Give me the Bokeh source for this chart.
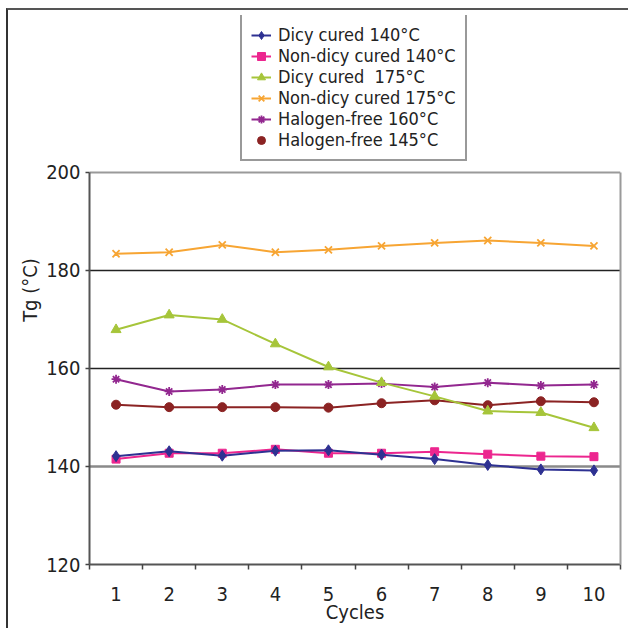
from bokeh.plotting import figure
from bokeh.models import Legend, LegendItem, FixedTicker, Grid, ColumnDataSource, Range1d, LinearAxis
from bokeh.embed import file_html
from bokeh.resources import INLINE

cycles = [1, 2, 3, 4, 5, 6, 7, 8, 9, 10]
dicy_140 = [142.1, 143.1, 142.2, 143.2, 143.3, 142.4, 141.5, 140.3, 139.4, 139.2]
nondicy_140 = [141.5, 142.7, 142.7, 143.5, 142.7, 142.7, 143.0, 142.5, 142.1, 142.0]
dicy_175 = [167.9, 170.9, 170.0, 165.0, 160.3, 157.1, 154.3, 151.3, 151.0, 147.9]
nondicy_175 = [183.4, 183.7, 185.2, 183.7, 184.2, 185.0, 185.6, 186.1, 185.6, 185.0]
halogen_160 = [157.8, 155.3, 155.7, 156.7, 156.7, 156.9, 156.2, 157.1, 156.5, 156.7]
halogen_145 = [152.6, 152.1, 152.1, 152.1, 152.0, 152.9, 153.5, 152.5, 153.3, 153.1]

series_names = ["Dicy cured 140°C", "Non-dicy cured 140°C", "Dicy cured  175°C",
                "Non-dicy cured 175°C", "Halogen-free 160°C", "Halogen-free 145°C"]
y_ticks = [120, 140, 160, 180, 200]
dark_grid_ticks = [160, 180]
light_grid_ticks = [140]
top_ticks = [200]
y_bounds = (120, 200)

FONT = "DejaVu Sans Condensed"

# the y range reaches above 200 only to leave room for the legend box
p = figure(width=622, height=620, output_backend="svg", toolbar_location=None,
           x_range=Range1d(0.5, 10.5), y_range=Range1d(120, 232),
           min_border_left=81, min_border_right=10, min_border_top=5, min_border_bottom=66)
p.styles = {"margin-left": "6px", "margin-top": "8px",
            "border-left": "2px solid #333333", "border-top": "2px solid #555555"}
p.background_fill_color = "white"
p.border_fill_color = "white"
p.outline_line_color = None

# axes
p.xaxis.ticker = FixedTicker(ticks=cycles, minor_ticks=[c - 0.5 for c in cycles] + [cycles[-1] + 0.5])
p.xaxis.major_tick_out = 0
p.xaxis.major_tick_in = 0
p.xaxis.minor_tick_out = 5
p.xaxis.minor_tick_in = 0
p.xaxis.minor_tick_line_color = "#444444"
p.xaxis.minor_tick_line_width = 1.5
p.xaxis.axis_line_color = "#555555"
p.xaxis.axis_line_width = 2
p.xaxis.major_label_standoff = 17
p.xaxis.axis_label = "Cycles"
p.xaxis.axis_label_standoff = -4

p.yaxis.ticker = FixedTicker(ticks=y_ticks)
p.yaxis.bounds = y_bounds
p.yaxis.minor_tick_line_color = None
p.yaxis.major_tick_out = 4
p.yaxis.major_tick_in = 0
p.yaxis.major_tick_line_color = "#444444"
p.yaxis.major_tick_line_width = 1.5
p.yaxis.axis_line_color = "#555555"
p.yaxis.axis_line_width = 2
p.yaxis.major_label_standoff = 5
p.yaxis.axis_label = "Tg (°C)"
p.yaxis.axis_label_standoff = 1

for ax in (p.xaxis[0], p.yaxis[0]):
    ax.major_label_text_font = FONT
    ax.major_label_text_font_size = "20px"
    ax.major_label_text_color = "#222222"
    ax.axis_label_text_font = FONT
    ax.axis_label_text_font_size = "20px"
    ax.axis_label_text_font_style = "normal"
    ax.axis_label_text_color = "#222222"

# right edge of the plot area
raxis = LinearAxis(ticker=FixedTicker(ticks=[]), bounds=y_bounds,
                   axis_line_color="#9a9a9a", axis_line_width=2,
                   major_tick_line_color=None, minor_tick_line_color=None,
                   major_label_text_font_size="0px")
p.add_layout(raxis, "right")

# grids
p.xgrid.grid_line_color = None
p.ygrid.ticker = FixedTicker(ticks=dark_grid_ticks)
p.ygrid.grid_line_color = "#222222"
p.ygrid.grid_line_width = 1.5
g2 = Grid(dimension=1, ticker=FixedTicker(ticks=light_grid_ticks), grid_line_color="#8a8a8a", grid_line_width=2.5)
p.add_layout(g2)
g3 = Grid(dimension=1, ticker=FixedTicker(ticks=top_ticks), grid_line_color="#9a9a9a", grid_line_width=2)
p.add_layout(g3)

colors = ["#2E3192", "#EC268F", "#A6C53A", "#F7A533", "#92278F", "#8B2323"]
markers = ["diamond", "square", "triangle", "x", "asterisk", "circle"]
sizes = [11, 8, 10, 10, 9, 9]
data = [dicy_140, nondicy_140, dicy_175, nondicy_175, halogen_160, halogen_145]

order = [5, 4, 3, 2, 1, 0]
renderers = {}
for i in order:
    src = ColumnDataSource(dict(x=cycles, y=data[i]))
    ln = p.line("x", "y", source=src, line_color=colors[i], line_width=2)
    mk = p.scatter("x", "y", source=src, marker=markers[i], size=sizes[i],
                   fill_color=colors[i], line_color=colors[i],
                   line_width=1.8 if markers[i] in ("x", "asterisk") else 1)
    renderers[i] = (ln, mk)

items = []
for i in range(6):
    ln, mk = renderers[i]
    if i == 5:
        items.append(LegendItem(label=series_names[i], renderers=[mk]))
    else:
        items.append(LegendItem(label=series_names[i], renderers=[ln, mk]))

legend = Legend(items=items, location=(151, 403), orientation="vertical")
legend.label_text_font = FONT
legend.label_text_font_size = "18px"
legend.label_text_line_height = 1.0
legend.label_text_color = "#222222"
legend.label_height = 20
legend.glyph_height = 20
legend.glyph_width = 20
legend.label_standoff = 7
legend.spacing = 0
legend.padding = 9
legend.margin = 0
legend.border_line_color = "#333333"
legend.border_line_width = 2
legend.background_fill_color = "white"
legend.background_fill_alpha = 1
p.add_layout(legend, "center")

open("out.html", "w").write(file_html(p, INLINE))
